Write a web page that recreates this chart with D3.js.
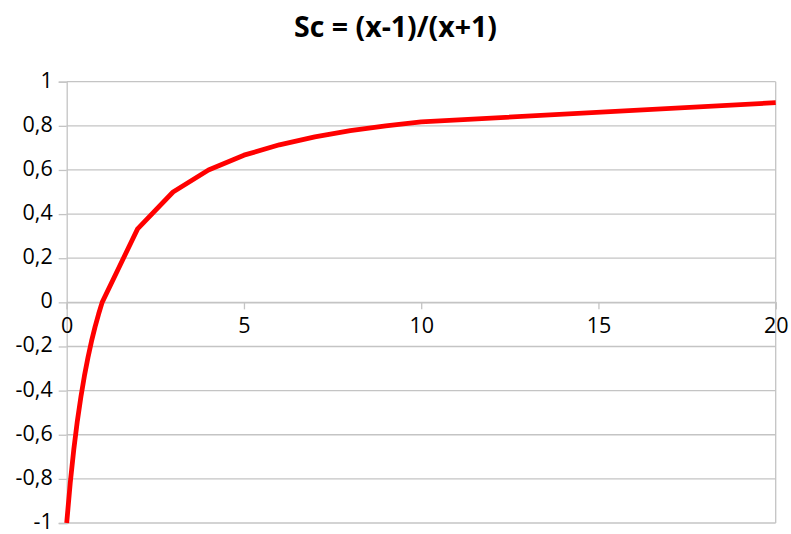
<!DOCTYPE html>
<html>
<head>
<meta charset="utf-8">
<script src="https://cdn.jsdelivr.net/npm/d3@7"></script>
<style>
  html, body { margin: 0; padding: 0; background: #fff; }
  svg { display: block; }
  text { font-family: "Open Sans", "Noto Sans", sans-serif; fill: #000; }
</style>
</head>
<body>
<svg id="chart" width="791" height="534"></svg>
<script>
// Sc = (x-1)/(x+1) sampled at these x positions
const xValues = [0, 0.1, 0.2, 0.3, 0.4, 0.5, 0.6, 0.7, 0.8, 0.9, 1, 2, 3, 4, 5, 6, 7, 8, 9, 10, 20];
const scValues = [-1, -0.818, -0.667, -0.538, -0.429, -0.333, -0.25, -0.176, -0.111, -0.053, 0,
                  0.333, 0.5, 0.6, 0.667, 0.714, 0.75, 0.778, 0.8, 0.818, 0.905];
const xTicks = [0, 5, 10, 15, 20];
const yTicks = [-1, -0.8, -0.6, -0.4, -0.2, 0, 0.2, 0.4, 0.6, 0.8, 1];
const titleText = "Sc = (x-1)/(x+1)";

const svg = d3.select("#chart");
const plot = { left: 66.7, right: 775.7, top: 81.7, bottom: 523 };
const gridColor = "#c4c4c4";

const x = d3.scaleLinear().domain([0, 20]).range([plot.left, plot.right]);
const y = d3.scaleLinear().domain([-1, 1]).range([plot.bottom, plot.top]);
const fmt = v => d3.format("")(Math.round(v * 10) / 10).replace(".", ",").replace("−", "-");

// title
svg.append("text")
  .attr("x", 395.5).attr("y", 37)
  .attr("text-anchor", "middle")
  .style("font-weight", "bold").style("font-size", "28.5px")
  .text(titleText);

// horizontal gridlines
svg.append("g").selectAll("line").data(yTicks).join("line")
  .attr("x1", plot.left).attr("x2", plot.right)
  .attr("y1", d => y(d)).attr("y2", d => y(d))
  .attr("stroke", gridColor).attr("stroke-width", 1.3);

// right border of the plot area
svg.append("line")
  .attr("x1", plot.right).attr("x2", plot.right)
  .attr("y1", plot.top).attr("y2", plot.bottom)
  .attr("stroke", gridColor).attr("stroke-width", 1.3);

// y axis on the left
const yAxis = svg.append("g")
  .attr("transform", `translate(${plot.left},0)`)
  .call(d3.axisLeft(y).tickValues(yTicks).tickSize(8).tickPadding(6).tickFormat(fmt));
yAxis.select(".domain").attr("stroke", gridColor).attr("stroke-width", 1.3);
yAxis.selectAll(".tick line").attr("stroke", gridColor).attr("stroke-width", 1.3);
yAxis.selectAll(".tick text")
  .attr("dy", null).attr("y", 5.5)
  .style("font-size", "21.5px").style("font-family", "'Open Sans', sans-serif");

// x axis crossing at zero
const xAxis = svg.append("g")
  .attr("transform", `translate(0,${y(0)})`)
  .call(d3.axisBottom(x).tickValues(xTicks).tickSize(7).tickPadding(4).tickFormat(d3.format("d")));
xAxis.select(".domain").attr("stroke", gridColor).attr("stroke-width", 1.3);
xAxis.selectAll(".tick line").attr("stroke", gridColor).attr("stroke-width", 1.3);
xAxis.selectAll(".tick text")
  .attr("dy", null).attr("y", 30.5)
  .style("font-size", "21.5px").style("font-family", "'Open Sans', sans-serif");

// curve
const line = d3.line()
  .x((d, i) => x(xValues[i]))
  .y(d => y(d));
svg.append("path")
  .datum(scValues)
  .attr("d", line)
  .attr("fill", "none")
  .attr("stroke", "#ff0000")
  .attr("stroke-width", 4.8)
  .attr("stroke-linejoin", "round");
</script>
</body>
</html>
